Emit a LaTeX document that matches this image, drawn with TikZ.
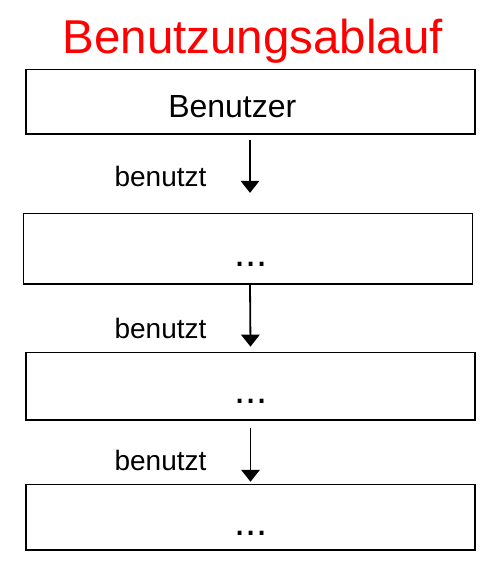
\documentclass[tikz,border=0pt]{standalone}
\usepackage{fontspec}
\setmainfont{Liberation Sans}
\usetikzlibrary{arrows.meta}
\begin{document}
\begin{tikzpicture}[x=1pt,y=-1pt,
  boxnode/.style={draw=black, line width=1.4pt, minimum width=449pt, inner sep=0pt, outer sep=0pt},
  lbl/.style={font=\fontsize{28}{32}\selectfont, anchor=base, inner sep=0pt},
  dots/.style={font=\fontsize{40}{44}\selectfont, anchor=base, inner sep=0pt},
  arr/.style={line width=1.8pt, -{Triangle[width=18.5pt,length=12pt]}}]
\useasboundingbox (0,0) rectangle (502,569);
\node[anchor=base, inner sep=0pt, text=red, font=\fontsize{47.5}{52}\selectfont] (title) at (252.7,53.3) {Benutzungsablauf};
\node[boxnode, minimum height=64.7pt] (b1) at (250.5,101.7) {};
\node[boxnode, minimum height=70.7pt] (b2) at (248.2,248.7) {};
\node[boxnode, minimum height=67.3pt] (b3) at (250.5,386.3) {};
\node[boxnode, minimum height=65.7pt] (b4) at (250.5,517.2) {};
\node[anchor=base, inner sep=0pt, font=\fontsize{32}{36}\selectfont] (t1) at (232.3,117.3) {Benutzer};
\node[dots] (t2) at (251,266.7) {...};
\node[dots] (t3) at (251,403) {...};
\node[dots] (t4) at (251,535) {...};
\node[lbl] (l1) at (160.5,186) {benutzt};
\node[lbl] (l2) at (160.5,338) {benutzt};
\node[lbl] (l3) at (160.5,470.7) {benutzt};
\draw[arr] ([xshift=-0.5pt,yshift=-6pt]b1.south) -- ([xshift=1.8pt,yshift=20.5pt]b2.north);
\draw[arr] ([xshift=1.8pt]b2.south) -- ([yshift=6pt]b3.north);
\draw[arr] ([yshift=-8pt]b3.south) -- ([yshift=2.6pt]b4.north);
\end{tikzpicture}
\end{document}
